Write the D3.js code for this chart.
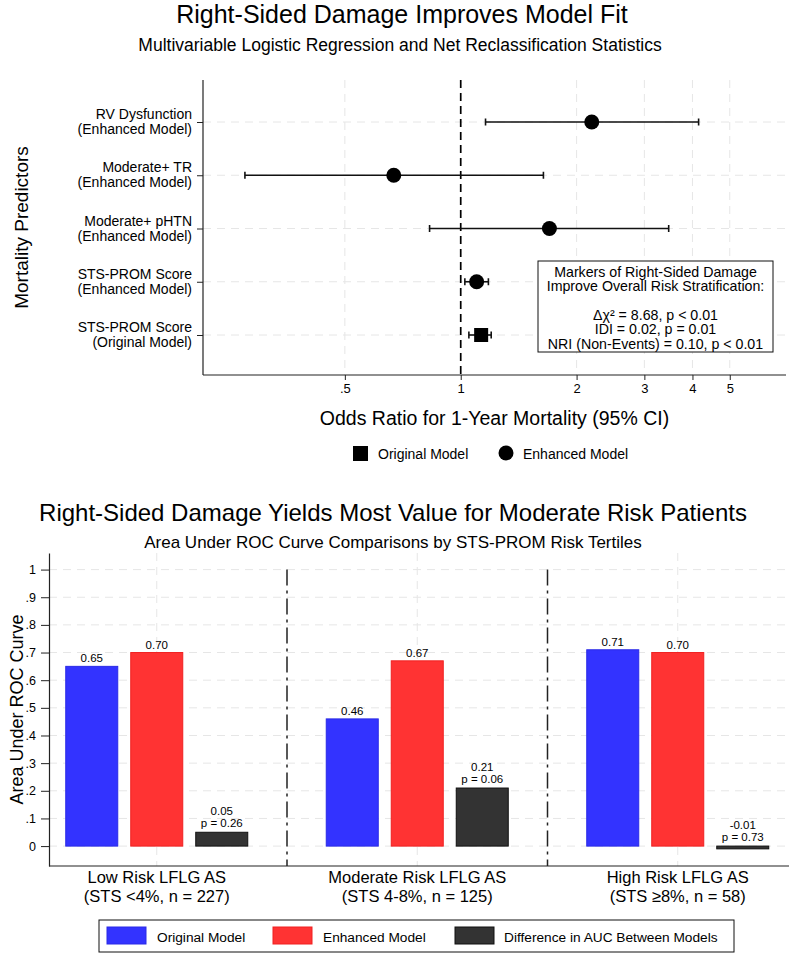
<!DOCTYPE html>
<html>
<head>
<meta charset="utf-8">
<script src="https://cdn.jsdelivr.net/npm/d3@7"></script>
<style>
body { margin: 0; background: #fff; }
svg { display: block; }
text { font-family: "Liberation Sans", Arial, sans-serif; fill: #000; }
</style>
</head>
<body>
<svg id="chart" width="789" height="955"></svg>
<script>
// ---- forest plot data ----
const predictorNames = ["RV Dysfunction", "Moderate+ TR", "Moderate+ pHTN", "STS-PROM Score", "STS-PROM Score"];
const predictorModels = ["(Enhanced Model)", "(Enhanced Model)", "(Enhanced Model)", "(Enhanced Model)", "(Original Model)"];
const oddsRatio = [2.19, 0.67, 1.70, 1.10, 1.13];
const ciLow = [1.16, 0.275, 0.83, 1.025, 1.05];
const ciHigh = [4.15, 1.64, 3.47, 1.18, 1.20];
const markerType = ["circle", "circle", "circle", "circle", "square"];
const orTicks = [0.5, 1, 2, 3, 4, 5];
const orTickLabels = [".5", "1", "2", "3", "4", "5"];
const annotLines = ["Markers of Right-Sided Damage", "Improve Overall Risk Stratification:", "", "Δχ² = 8.68, p < 0.01", "IDI = 0.02, p = 0.01", "NRI (Non-Events) = 0.10, p < 0.01"];

// ---- AUC bar data ----
const groups = ["Low Risk LFLG AS", "Moderate Risk LFLG AS", "High Risk LFLG AS"];
const groupSub = ["(STS <4%, n = 227)", "(STS 4-8%, n = 125)", "(STS ≥8%, n = 58)"];
const series = ["Original Model", "Enhanced Model", "Difference in AUC Between Models"];
const aucOriginal = [0.65, 0.46, 0.71];
const aucEnhanced = [0.70, 0.67, 0.70];
const aucDiff = [0.05, 0.21, -0.01];
const diffP = ["0.26", "0.06", "0.73"];
const aucTicks = [0, 0.1, 0.2, 0.3, 0.4, 0.5, 0.6, 0.7, 0.8, 0.9, 1];
const seriesFill = ["#3333ff", "#ff3333", "#333333"];
const seriesStroke = ["#2a2ae6", "#f02020", "#111111"];

const svg = d3.select("#chart");
const gridCol = "#e6e6e6";

// ================= TOP: forest plot =================
svg.append("text").attr("x", 402).attr("y", 23).attr("text-anchor", "middle")
  .style("font-size", "25px").text("Right-Sided Damage Improves Model Fit");
svg.append("text").attr("x", 400).attr("y", 51).attr("text-anchor", "middle")
  .style("font-size", "17.5px").text("Multivariable Logistic Regression and Net Reclassification Statistics");

const fTop = 80, fBot = 375, fLeft = 203, fRight = 786;
const fx = d3.scaleLog().domain([0.214, 7]).range([fLeft, fRight]);
const fy = d3.scalePoint().domain(d3.range(predictorNames.length)).range([122, 335]);

const fg = svg.append("g");

// grid
fg.selectAll(".vgrid").data(orTicks.filter(d => d !== 1)).enter().append("line")
  .attr("x1", d => fx(d)).attr("x2", d => fx(d)).attr("y1", fTop).attr("y2", fBot)
  .attr("stroke", gridCol).attr("stroke-width", 1).attr("stroke-dasharray", "8,6");
fg.selectAll(".hgrid").data(fy.domain()).enter().append("line")
  .attr("x1", fLeft).attr("x2", fRight).attr("y1", d => fy(d)).attr("y2", d => fy(d))
  .attr("stroke", gridCol).attr("stroke-width", 1).attr("stroke-dasharray", "8,6");

// reference line at OR = 1
fg.append("line").attr("x1", fx(1)).attr("x2", fx(1)).attr("y1", fTop).attr("y2", fBot)
  .attr("stroke", "#000").attr("stroke-width", 1.7).attr("stroke-dasharray", "8,5");

// axes
const xAxisF = d3.axisBottom(fx).tickValues(orTicks)
  .tickFormat((d, i) => orTickLabels[i]).tickSize(5).tickSizeOuter(0).tickPadding(4);
const gxF = fg.append("g").attr("transform", `translate(0,${fBot})`).call(xAxisF);
gxF.select(".domain").remove();
gxF.selectAll("text").style("font-size", "13px").style("font-family", "Liberation Sans, Arial, sans-serif");
gxF.selectAll("line").attr("stroke", "#222");

const yAxisF = d3.axisLeft(fy).tickSize(6).tickFormat("");
const gyF = fg.append("g").attr("transform", `translate(${fLeft},0)`).call(yAxisF);
gyF.select(".domain").remove();
gyF.selectAll("line").attr("stroke", "#222");

fg.append("line").attr("x1", fLeft).attr("x2", fLeft).attr("y1", fTop).attr("y2", fBot)
  .attr("stroke", "#222").attr("stroke-width", 1.2);
fg.append("line").attr("x1", fLeft).attr("x2", fRight).attr("y1", fBot).attr("y2", fBot)
  .attr("stroke", "#222").attr("stroke-width", 1.2);

// row labels
const rowLab = fg.selectAll(".rowlab").data(fy.domain()).enter().append("text")
  .attr("text-anchor", "end").style("font-size", "14px");
rowLab.append("tspan").attr("x", 192).attr("y", d => fy(d) - 3).text(d => predictorNames[d]);
rowLab.append("tspan").attr("x", 192).attr("y", d => fy(d) + 12).text(d => predictorModels[d]);

// axis titles
fg.append("text").attr("transform", `translate(28,${(fTop + fBot) / 2}) rotate(-90)`)
  .attr("text-anchor", "middle").style("font-size", "19px").text("Mortality Predictors");
fg.append("text").attr("x", (fLeft + fRight) / 2).attr("y", 425).attr("text-anchor", "middle")
  .style("font-size", "19.5px").text("Odds Ratio for 1-Year Mortality (95% CI)");

// CI bars
const rows = fy.domain();
fg.selectAll(".ci").data(rows).enter().append("line")
  .attr("x1", d => fx(ciLow[d])).attr("x2", d => fx(ciHigh[d]))
  .attr("y1", d => fy(d)).attr("y2", d => fy(d))
  .attr("stroke", "#111").attr("stroke-width", 1.6);
[ciLow, ciHigh].forEach(arr => {
  fg.selectAll(null).data(rows).enter().append("line")
    .attr("x1", d => fx(arr[d])).attr("x2", d => fx(arr[d]))
    .attr("y1", d => fy(d) - 3.5).attr("y2", d => fy(d) + 3.5)
    .attr("stroke", "#111").attr("stroke-width", 1.6);
});
// markers
fg.selectAll(".mcirc").data(rows.filter(d => markerType[d] === "circle")).enter().append("circle")
  .attr("cx", d => fx(oddsRatio[d])).attr("cy", d => fy(d)).attr("r", 7.5).attr("fill", "#000");
fg.selectAll(".msq").data(rows.filter(d => markerType[d] === "square")).enter().append("rect")
  .attr("x", d => fx(oddsRatio[d]) - 7).attr("y", d => fy(d) - 7)
  .attr("width", 14).attr("height", 14).attr("fill", "#000");

// annotation box
fg.append("rect").attr("x", 538).attr("y", 261).attr("width", 235).attr("height", 91)
  .attr("fill", "#fff").attr("stroke", "#111").attr("stroke-width", 1);
fg.selectAll(".annot").data(annotLines).enter().append("text")
  .attr("x", 655.5).attr("y", (d, i) => 277 + i * 14.3).attr("text-anchor", "middle")
  .style("font-size", "14.2px").text(d => d);

// legend
const lg = svg.append("g");
lg.append("rect").attr("x", 353).attr("y", 446).attr("width", 15).attr("height", 15).attr("fill", "#000");
lg.append("text").attr("x", 378).attr("y", 458.5).style("font-size", "14px").text("Original Model");
lg.append("circle").attr("cx", 506).attr("cy", 453).attr("r", 7.5).attr("fill", "#000");
lg.append("text").attr("x", 523).attr("y", 458.5).style("font-size", "14px").text("Enhanced Model");

// ================= BOTTOM: AUC bars =================
svg.append("text").attr("x", 393).attr("y", 521).attr("text-anchor", "middle")
  .style("font-size", "24px").text("Right-Sided Damage Yields Most Value for Moderate Risk Patients");
svg.append("text").attr("x", 393).attr("y", 548).attr("text-anchor", "middle")
  .style("font-size", "17px").text("Area Under ROC Curve Comparisons by STS-PROM Risk Tertiles");

const bTop = 553, bBot = 866, bLeft = 49, bRight = 789;
const by = d3.scaleLinear().domain([-0.072, 1.06]).range([bBot, bTop]);
const bx = d3.scaleBand().domain(groups).range([26.5, 808]);
const bsub = d3.scaleBand().domain(series).range([0, 182]).paddingInner(0.2);
const bg = svg.append("g");

// grid
bg.selectAll(".bh").data(aucTicks).enter().append("line")
  .attr("x1", bLeft).attr("x2", bRight).attr("y1", d => by(d)).attr("y2", d => by(d))
  .attr("stroke", gridCol).attr("stroke-width", 1).attr("stroke-dasharray", "8,6");
bg.selectAll(".bv").data(groups).enter().append("line")
  .attr("x1", d => bx(d) + bx.bandwidth() / 2).attr("x2", d => bx(d) + bx.bandwidth() / 2)
  .attr("y1", bTop).attr("y2", bBot)
  .attr("stroke", gridCol).attr("stroke-width", 1).attr("stroke-dasharray", "8,6");

// group separators (dash-dot)
bg.selectAll(".sep").data(groups.slice(1)).enter().append("line")
  .attr("x1", d => bx(d)).attr("x2", d => bx(d)).attr("y1", by(1)).attr("y2", bBot)
  .attr("stroke", "#222").attr("stroke-width", 1.5).attr("stroke-dasharray", "16,5,3,5");

// bars
const barData = [];
groups.forEach((g, gi) => {
  [aucOriginal[gi], aucEnhanced[gi], aucDiff[gi]].forEach((v, si) => {
    barData.push({ g, gi, s: series[si], si, v });
  });
});
const barX = d => bx(d.g) + bx.bandwidth() / 2 - 91 + bsub(d.s);
bg.selectAll(".bar").data(barData).enter().append("rect")
  .attr("x", barX).attr("width", bsub.bandwidth())
  .attr("y", d => by(Math.max(0, d.v)))
  .attr("height", d => Math.max(Math.abs(by(d.v) - by(0)), 0))
  .attr("fill", d => seriesFill[d.si]).attr("stroke", d => seriesStroke[d.si]).attr("stroke-width", 1);

// bar labels
const labG = bg.selectAll(".blab").data(barData).enter().append("text")
  .attr("text-anchor", "middle").style("font-size", "11.5px");
labG.filter(d => d.si < 2)
  .attr("x", d => barX(d) + bsub.bandwidth() / 2).attr("y", d => by(d.v) - 4)
  .text(d => d.v.toFixed(2));
labG.filter(d => d.si === 2).each(function (d) {
  const t = d3.select(this);
  const cx = barX(d) + bsub.bandwidth() / 2;
  const yb = by(Math.max(0, d.v)) - 5;
  t.append("tspan").attr("x", cx).attr("y", yb - 12).text(d.v.toFixed(2));
  t.append("tspan").attr("x", cx).attr("y", yb).text("p = " + diffP[d.gi]);
});

// axes
const yAxisB = d3.axisLeft(by).tickValues(aucTicks)
  .tickFormat(d => d === 0 ? "0" : d === 1 ? "1" : d3.format(".1f")(d).replace(/^0/, ""))
  .tickSize(8).tickSizeOuter(0).tickPadding(5);
const gyB = bg.append("g").attr("transform", `translate(${bLeft},0)`).call(yAxisB);
gyB.select(".domain").attr("stroke", "#222").attr("stroke-width", 1.2);
gyB.selectAll("line").attr("stroke", "#222");
gyB.selectAll("text").style("font-size", "12.5px").style("font-family", "Liberation Sans, Arial, sans-serif");

bg.append("line").attr("x1", bLeft).attr("x2", bRight).attr("y1", bBot).attr("y2", bBot)
  .attr("stroke", "#222").attr("stroke-width", 1.2);

// group labels
const gl = bg.selectAll(".glab").data(groups).enter().append("text")
  .attr("text-anchor", "middle").style("font-size", "16.5px");
gl.append("tspan").attr("x", d => bx(d) + bx.bandwidth() / 2).attr("y", 883).text(d => d);
gl.append("tspan").attr("x", d => bx(d) + bx.bandwidth() / 2).attr("y", 902).text((d, i) => groupSub[i]);

bg.append("text").attr("transform", `translate(23,${(bTop + bBot) / 2}) rotate(-90)`)
  .attr("text-anchor", "middle").style("font-size", "18px").text("Area Under ROC Curve");

// legend
const lb = svg.append("g");
lb.append("rect").attr("x", 99).attr("y", 920).attr("width", 635).attr("height", 32)
  .attr("fill", "#fff").attr("stroke", "#111").attr("stroke-width", 1);
const swX = [107, 273, 455];
const txX = [157, 323, 504];
series.forEach((s, i) => {
  lb.append("rect").attr("x", swX[i]).attr("y", 927).attr("width", 39).attr("height", 17)
    .attr("fill", seriesFill[i]).attr("stroke", seriesStroke[i]).attr("stroke-width", 1);
  lb.append("text").attr("x", txX[i]).attr("y", 942).style("font-size", "13.7px").text(s);
});
</script>
</body>
</html>
